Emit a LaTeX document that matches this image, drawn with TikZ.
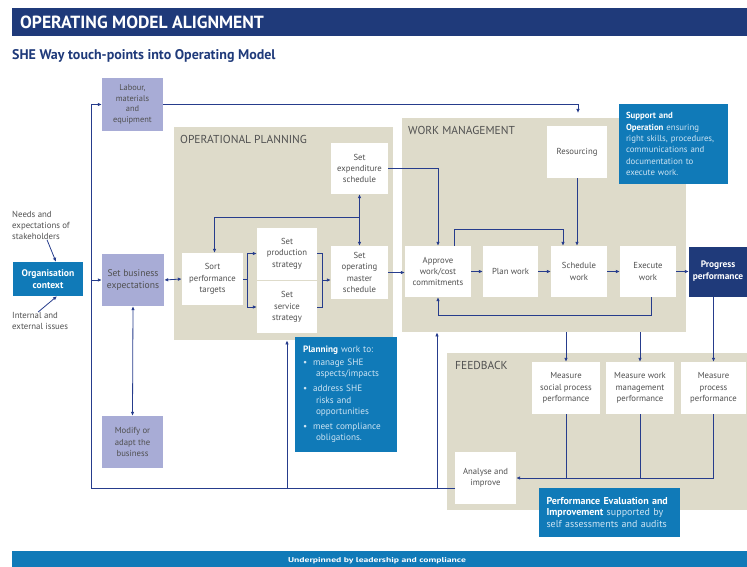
\documentclass[tikz,border=0pt]{standalone}
\usepackage{fontspec}
\setmainfont{PT Sans}
\usetikzlibrary{arrows.meta}

\definecolor{navy}{RGB}{31,58,122}
\definecolor{midblue}{RGB}{16,122,184}
\definecolor{lavender}{RGB}{168,172,214}
\definecolor{beige}{RGB}{222,219,202}
\definecolor{linecol}{RGB}{38,60,140}
\definecolor{txtgray}{RGB}{80,80,80}
\definecolor{paletext}{RGB}{205,228,243}

\tikzset{
  box/.style={fill=white, text=txtgray, align=center, inner sep=1pt,
    font=\fontsize{8.7}{11.4}\selectfont},
  lavbox/.style={box, fill=lavender},
  bluebox/.style={fill=midblue, text=white, inner sep=0pt},
  panel/.style={fill=beige, anchor=north west, inner sep=0pt},
  paneltitle/.style={anchor=north west, text=txtgray, inner sep=0pt,
    font=\fontsize{11.5}{12}\selectfont},
  con/.style={draw=linecol, line width=.8pt},
  arr/.style={con, -{Latex[length=4pt,width=3.6pt]}},
  dbl/.style={con, {Latex[length=4pt,width=3.6pt]}-{Latex[length=4pt,width=3.6pt]}},
}

\begin{document}
\begin{tikzpicture}[x=1pt,y=-1pt]
  \useasboundingbox (0,0) rectangle (747,567);
  \clip (0,0) rectangle (747,567);
  \def\bw{61pt}
  \def\bh{52pt}

  % header and footer
  \node[fill=navy, anchor=north west, minimum width=748pt, minimum height=28pt] (titlebar) at (12,8) {};
  \node[anchor=west, text=white, inner sep=0pt, font=\fontsize{17.6}{18}\selectfont\bfseries]
      (title) at (20,22) {OPERATING MODEL ALIGNMENT};
  \node[anchor=west, text=navy, inner sep=0pt, font=\fontsize{14}{14}\selectfont\bfseries]
      (subtitle) at (12,56) {SHE Way touch-points into Operating Model};
  \node[fill=midblue, anchor=north west, minimum width=748pt, minimum height=20pt] (banner) at (12,551) {};
  \node[text=white, inner sep=0pt, font=\fontsize{7}{7}\selectfont\bfseries]
      (bannertext) at (377,561) {\scalebox{1.38}[1]{Underpinned by leadership and compliance}};

  % panels
  \node[panel, minimum width=219pt, minimum height=213pt] (ops) at (174,127) {};
  \node[panel, minimum width=284pt, minimum height=214pt] (wm) at (402,118) {};
  \node[panel, minimum width=313pt, minimum height=157pt] (fb) at (447,353) {};
  \node[paneltitle] (opstitle) at (180,135) {OPERATIONAL PLANNING};
  \node[paneltitle] (wmtitle) at (408,126) {WORK MANAGEMENT};
  \node[paneltitle] (fbtitle) at (455,361) {FEEDBACK};

  % organisation context
  \node[anchor=north west, align=left, text=txtgray, inner sep=0pt, font=\fontsize{8.8}{11}\selectfont]
      (needs) at (12,211) {Needs and\\expectations of\\stakeholders};
  \node[bluebox, minimum width=70pt, minimum height=34pt, align=center,
      font=\fontsize{9.6}{12}\selectfont\bfseries] (org) at (48,279) {Organisation\\context};
  \node[anchor=north west, align=left, text=txtgray, inner sep=0pt, font=\fontsize{8.8}{11}\selectfont]
      (issues) at (12,312) {Internal and\\external issues};

  % business boxes
  \node[lavbox, minimum width=\bw, minimum height=53pt, font=\fontsize{8.4}{10.8}\selectfont]
      (lab) at (132.5,104.5) {Labour,\\materials\\and\\equipment};
  \node[lavbox, minimum width=62pt, minimum height=\bh, font=\fontsize{9.6}{12}\selectfont]
      (setbiz) at (133,280) {Set business\\expectations};
  \node[lavbox, minimum width=\bw, minimum height=\bh] (modify) at (132.5,442) {Modify or\\adapt the\\business};

  % operational planning
  \node[box, minimum width=\bw, minimum height=\bh] (sort) at (212.5,279) {Sort\\performance\\targets};
  \node[box, minimum width=60pt, minimum height=\bh] (prod) at (287,253.5) {Set\\production\\strategy};
  \node[box, minimum width=60pt, minimum height=\bh] (serv) at (287,307) {Set\\service\\strategy};
  \node[box, minimum width=57pt, minimum height=51pt] (expend) at (359.5,168.5) {Set\\expenditure\\schedule};
  \node[box, minimum width=57pt, minimum height=53pt] (opsched) at (359.5,272.5) {Set\\operating\\master\\schedule};

  % work management
  \node[box, minimum width=60pt, minimum height=\bh] (res) at (577,152) {Resourcing};
  \node[box, minimum width=66pt, minimum height=51pt] (approve) at (438,271.5) {Approve\\work/cost\\commitments};
  \node[box, minimum width=55pt, minimum height=51pt] (plan) at (510.5,271.5) {Plan work};
  \node[box, minimum width=56pt, minimum height=51pt] (sched) at (579,271.5) {Schedule\\work};
  \node[box, minimum width=56pt, minimum height=51pt] (exec) at (648,271.5) {Execute\\work};
  \node[fill=navy, text=white, align=center, inner sep=0pt, minimum width=58pt, minimum height=50pt,
      font=\fontsize{9.4}{12.2}\selectfont\bfseries] (progress) at (718,271.5) {Progress\\performance};

  % feedback
  \node[box, minimum width=68pt, minimum height=\bh] (msocial) at (566,388) {Measure\\social process\\performance};
  \node[box, minimum width=68pt, minimum height=\bh] (mwork) at (640,388) {Measure work\\management\\performance};
  \node[box, minimum width=65pt, minimum height=\bh] (mproc) at (713.5,388) {Measure\\process\\performance};
  \node[box, minimum width=\bw, minimum height=\bh] (analyse) at (485.5,478) {Analyse and\\improve};

  % touch-point notes
  \node[bluebox, minimum width=109pt, minimum height=80pt, text width=95pt, align=left,
      font=\fontsize{8.8}{11.3}\selectfont] (support) at (673.5,144)
      {\textbf{Support and}\\\textbf{Operation} \textcolor{paletext}{ensuring}\\
       \textcolor{paletext}{right skills, procedures,}\\\textcolor{paletext}{communications and}\\
       \textcolor{paletext}{documentation to}\\\textcolor{paletext}{execute work.}};
  \node[bluebox, minimum width=102pt, minimum height=115pt, text width=86pt, align=left,
      font=\fontsize{9.2}{11.6}\selectfont] (planning) at (346,394.5)
      {\textbf{Planning} \textcolor{paletext}{work to:}\\[1pt]
       \textcolor{paletext}{\textbullet\hspace{6pt}manage SHE}\\\textcolor{paletext}{\hspace{13pt}aspects/impacts}\\[3pt]
       \textcolor{paletext}{\textbullet\hspace{6pt}address SHE}\\\textcolor{paletext}{\hspace{13pt}risks and}\\
       \textcolor{paletext}{\hspace{13pt}opportunities}\\[3pt]
       \textcolor{paletext}{\textbullet\hspace{6pt}meet compliance}\\\textcolor{paletext}{\hspace{13pt}obligations.}};
  \node[bluebox, minimum width=141pt, minimum height=49pt, text width=126pt, align=left,
      font=\fontsize{10}{11.2}\selectfont] (perfeval) at (609.5,512.5)
      {\textbf{Performance Evaluation and}\\\textbf{Improvement} \textcolor{paletext}{supported by}\\
       \textcolor{paletext}{self assessments and audits}};

  % outer loop
  \coordinate (loopL) at (91,488);
  \coordinate (fbout) at (455,488);
  \coordinate (j1) at (287,488);
  \coordinate (j2) at (437,488);
  \coordinate (labin) at (578,113);
  \draw[arr] (fbout) -- (loopL) |- (lab.west);
  \draw[arr] (j1) -- (j1 |- ops.south);
  \draw[arr] (j2) -- (j2 |- wm.south);
  \draw[arr] (lab.east) -| (labin);
  \draw[arr] (loopL |- setbiz.west) -- (setbiz.west);
  \draw[arr] ([xshift=6pt]needs.south) -- ([xshift=8pt]org.north);
  \draw[arr] ([xshift=-2pt]issues.north) -- ([xshift=9pt]org.south);
  \draw[dbl] (setbiz.east) -- (sort.west);
  \draw[dbl] (setbiz.south) -- (modify.north);

  % planning connectors
  \coordinate (brL) at (247,279);
  \coordinate (brR) at (322,280);
  \coordinate (jx) at (359.5,217);
  \draw[con] (sort.east) -- (brL);
  \draw[con] (brL |- prod) -- (brL |- serv);
  \draw[arr] (brL |- prod) -- (prod.west);
  \draw[arr] (brL |- serv) -- (serv.west);
  \draw[con] (prod.east) -| (brR);
  \draw[con] (serv.east) -| (brR);
  \draw[arr] (brR) -- (brR -| opsched.west);
  \draw[dbl] (expend.south) -- (opsched.north);
  \draw[arr] (jx) -| ([xshift=2pt]sort.north);
  \draw[arr] (opsched.east) -- (opsched.east -| approve.west);
  \draw[arr] (expend.east) -| (approve.north);

  % work management connectors
  \foreach \a/\b in {approve/plan, plan/sched, sched/exec, exec/progress}
  {
    \draw[arr] (\a.east) -- (\a.east -| \b.west);
  }
  \draw[arr] ([xshift=16pt]approve.north) -- ++(0,-16) -| ([xshift=-16pt]sched.north);
  \draw[arr] (res.south) -- (res.south |- sched.north);
  \draw[arr] ([xshift=3pt]exec.south) -- ++(0,18) -| (approve.south);

  % feedback connectors
  \coordinate (jm) at (600,478);
  \foreach \m in {msocial, mwork}
  {
    \draw[arr] (wm.south -| \m) -- (\m.north);
    \draw[con] (\m.south) -- (\m.south |- jm);
  }
  \draw[arr] (mproc.north |- progress.south) -- (mproc.north);
  \draw[arr] (mproc.south) |- (analyse.east);
\end{tikzpicture}
\end{document}
